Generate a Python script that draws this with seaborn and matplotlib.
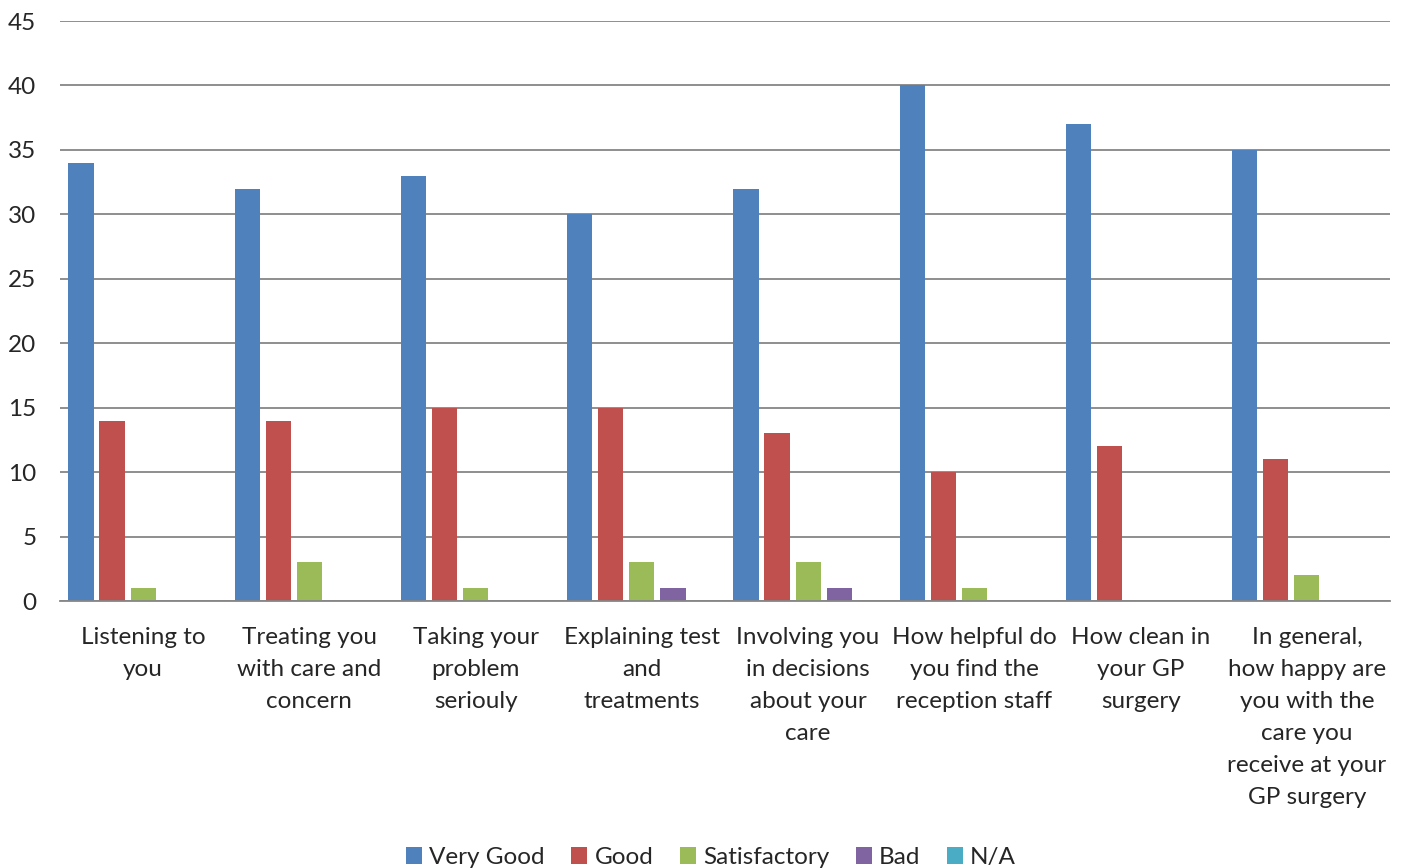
import matplotlib
matplotlib.use("Agg")
import matplotlib.pyplot as plt
import seaborn as sns
import pandas as pd

categories = [
    "Listening to\nyou",
    "Treating you\nwith care and\nconcern",
    "Taking your\nproblem\nseriouly",
    "Explaining test\nand\ntreatments",
    "Involving you\nin decisions\nabout your\ncare",
    "How helpful do\nyou find the\nreception staff",
    "How clean in\nyour GP\nsurgery",
    "In general,\nhow happy are\nyou with the\ncare you\nreceive at your\nGP surgery",
]
series_names = ["Very Good", "Good", "Satisfactory", "Bad", "N/A"]
very_good = [34, 32, 33, 30, 32, 40, 37, 35]
good = [14, 14, 15, 15, 13, 10, 12, 11]
satisfactory = [1, 3, 1, 3, 3, 1, 0, 2]
bad = [0, 0, 0, 1, 1, 0, 0, 0]
na = [0, 0, 0, 0, 0, 0, 0, 0]
yticks = list(range(0, 46, 5))

colors = ["#4F81BD", "#C0504D", "#9BBB59", "#8064A2", "#4BACC6"]

rows = []
for name, vals in zip(series_names, [very_good, good, satisfactory, bad, na]):
    for c, v in zip(categories, vals):
        rows.append({"Question": c, "Rating": name, "Count": v})
df = pd.DataFrame(rows)

sns.set_theme(style="white")
plt.rcParams["font.family"] = ["Lato", "DejaVu Sans"]

fig = plt.figure(figsize=(14.08, 8.68), dpi=100)
ax = fig.add_axes([60 / 1408, 1 - 601 / 868, (1390 - 60) / 1408, (601 - 21) / 868])

sns.barplot(data=df, x="Question", y="Count", hue="Rating", order=categories,
            hue_order=series_names, palette=colors, width=0.934, gap=0.19,
            saturation=1, ax=ax, legend=True, linewidth=0)

ax.set_ylim(0, 45)
ax.set_xlim(-0.5, len(categories) - 0.5)
ax.set_yticks(yticks)
ax.set_yticklabels([str(t) for t in yticks], fontsize=17.5)
ax.yaxis.grid(True, color="#868686", linewidth=1.3)
ax.set_axisbelow(True)
ax.set_xlabel("")
ax.set_ylabel("")
ax.tick_params(axis="x", length=0, pad=19)
ax.tick_params(axis="y", length=0, pad=17)
ax.set_xticks(range(len(categories)))
ax.set_xticklabels(categories, fontsize=17.5, linespacing=1.64)
for s in ["left", "right", "top"]:
    ax.spines[s].set_visible(False)
ax.spines["bottom"].set_color("#868686")
ax.spines["bottom"].set_linewidth(1.3)

handles, labels = ax.get_legend_handles_labels()
ax.legend_.remove()
fig.legend(handles, labels, loc="center", bbox_to_anchor=(0.505, 0.012), ncol=5,
           frameon=False, fontsize=17.5, handlelength=0.65, handleheight=0.65,
           handletextpad=0.3, columnspacing=1.1)

fig.savefig("out.png", dpi=100)
